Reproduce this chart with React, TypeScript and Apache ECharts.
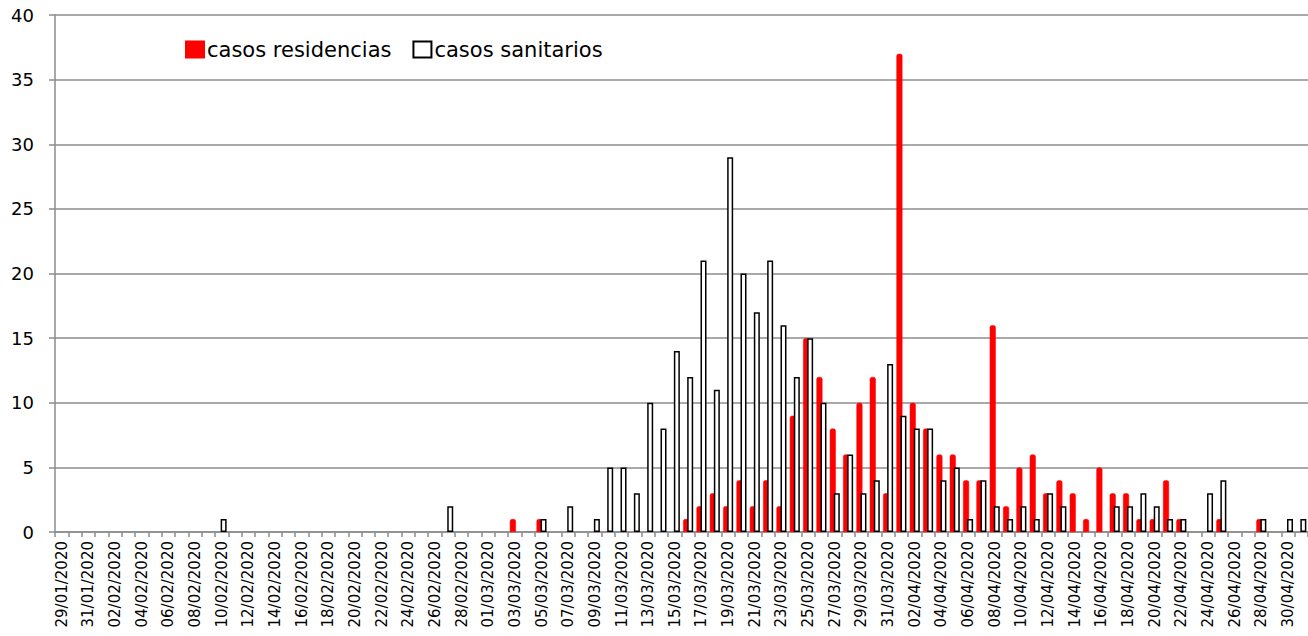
import React, { useEffect, useRef } from "react";
import * as echarts from "echarts";

// Daily categories 29/01/2020 .. 01/05/2020 (labels every other day)
function buildDates(): string[] {
  const out: string[] = [];
  const d = new Date(2020, 0, 29);
  const end = new Date(2020, 4, 1);
  while (d <= end) {
    const dd = String(d.getDate()).padStart(2, "0");
    const mm = String(d.getMonth() + 1).padStart(2, "0");
    out.push(`${dd}/${mm}/${d.getFullYear()}`);
    d.setDate(d.getDate() + 1);
  }
  return out;
}
const categories = buildDates();

const casosResidencias = [
  0, 0, 0, 0, 0, 0, 0, 0, 0, 0,
  0, 0, 0, 0, 0, 0, 0, 0, 0, 0,
  0, 0, 0, 0, 0, 0, 0, 0, 0, 0,
  0, 0, 0, 0, 1, 0, 1, 0, 0, 0,
  0, 0, 0, 0, 0, 0, 0, 1, 2, 3,
  2, 4, 2, 4, 2, 9, 15, 12, 8, 6,
  10, 12, 3, 37, 10, 8, 6, 6, 4, 4,
  16, 2, 5, 6, 3, 4, 3, 1, 5, 3,
  3, 1, 1, 4, 1, 0, 0, 1, 0, 0,
  1, 0, 0, 0,
];

const casosSanitarios = [
  0, 0, 0, 0, 0, 0, 0, 0, 0, 0,
  0, 0, 1, 0, 0, 0, 0, 0, 0, 0,
  0, 0, 0, 0, 0, 0, 0, 0, 0, 2,
  0, 0, 0, 0, 0, 0, 1, 0, 2, 0,
  1, 5, 5, 3, 10, 8, 14, 12, 21, 11,
  29, 20, 17, 21, 16, 12, 15, 10, 3, 6,
  3, 4, 13, 9, 8, 8, 4, 5, 1, 4,
  2, 1, 2, 1, 3, 2, 0, 0, 0, 2,
  2, 3, 2, 1, 1, 0, 3, 4, 0, 0,
  1, 0, 1, 1,
];

const yTicks = { min: 0, max: 40, interval: 5 };
const FONT = "'DejaVu Sans', Verdana, sans-serif";

export default function App() {
  const ref = useRef<HTMLDivElement>(null);

  useEffect(() => {
    if (!ref.current) return;
    const chart = echarts.init(ref.current, undefined, { renderer: "svg" });
    const toData = (arr: number[]) => arr.map((v) => (v === 0 ? null : v));
    chart.setOption({
      animation: false,
      backgroundColor: "#ffffff",
      textStyle: { fontFamily: FONT, color: "#000" },
      grid: { left: 55, right: 0, top: 15, bottom: 104, containLabel: false },
      legend: {
        left: 180,
        top: 34,
        itemWidth: 18,
        itemHeight: 16,
        itemGap: 21,
        icon: "rect",
        textStyle: { fontSize: 21, color: "#000", fontFamily: FONT, padding: [0, 0, 0, -2] },
        data: ["casos residencias", "casos sanitarios"],
      },
      xAxis: {
        type: "category",
        data: categories,
        boundaryGap: true,
        axisLine: { show: true, lineStyle: { color: "#8c8c8c", width: 1.5 } },
        axisTick: { show: true, interval: 0, length: 5, lineStyle: { color: "#8c8c8c", width: 1.5 } },
        axisLabel: {
          interval: 1,
          rotate: 90,
          margin: 9,
          fontSize: 15,
          color: "#000",
          fontFamily: FONT,
        },
        splitLine: { show: false },
      },
      yAxis: {
        type: "value",
        min: yTicks.min,
        max: yTicks.max,
        interval: yTicks.interval,
        axisLine: { show: true, lineStyle: { color: "#8c8c8c", width: 1.5 } },
        axisTick: { show: true, length: 6, lineStyle: { color: "#8c8c8c", width: 1.5 } },
        axisLabel: { fontSize: 18, color: "#000", margin: 21, fontFamily: FONT },
        splitLine: { show: true, lineStyle: { color: "#8c8c8c", width: 1.5 } },
      },
      series: [
        {
          name: "casos residencias",
          type: "bar",
          data: toData(casosResidencias),
          barWidth: 6,
          barGap: "-33%",
          itemStyle: { color: "#ff0000", borderColor: "#ff0000", borderWidth: 0.5, borderRadius: [2, 2, 0, 0] },
        },
        {
          name: "casos sanitarios",
          type: "bar",
          data: toData(casosSanitarios),
          barWidth: 6,
          itemStyle: { color: "#ffffff", borderColor: "#000000", borderWidth: 1.5 },
        },
      ],
    });
    return () => chart.dispose();
  }, []);

  return (
    <div
      ref={ref}
      style={{ position: "fixed", left: 0, top: 0, width: 1308, height: 636, background: "#fff" }}
    />
  );
}
